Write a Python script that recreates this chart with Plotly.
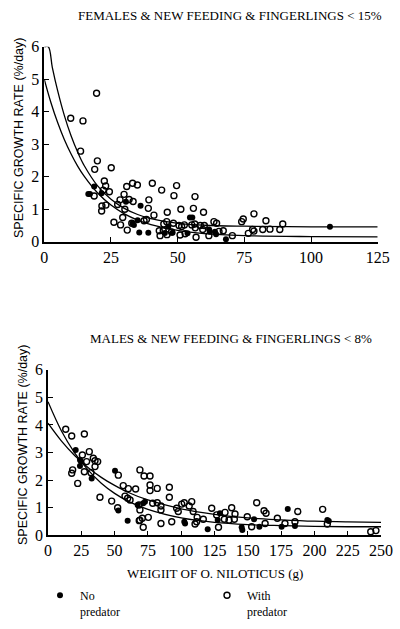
import plotly.graph_objects as go

# ---------------- data ----------------
# Top panel: FEMALES
top_no_x = [16.5, 17.1, 18.7, 21.5, 30.6, 36.1, 33.1, 33.6, 35.0, 39.0, 35.6, 46.5, 45.2,
            48.1, 53.7, 54.6, 55.5, 61.8, 62.1, 64.0, 64.4, 68.1, 107.1]
top_no_y = [1.47, 1.47, 1.70, 1.49, 1.23, 1.11, 0.57, 0.52, 0.66, 0.28, 0.29, 0.46, 0.27,
            0.28, 0.26, 0.75, 0.75, 0.38, 0.31, 0.31, 0.23, 0.08, 0.46]

top_with_x = [9.9, 14.5, 19.6, 13.6, 19.9, 18.9, 25.1, 22.5, 23.0, 22.1, 24.4, 18.7, 21.6, 23.1, 21.5,
              30.9, 33.1, 34.9, 40.5, 44.0, 49.6, 48.6, 56.5,
              29.9, 31.8, 33.3, 39.2, 28.4, 27.5, 30.2, 39.0, 41.1, 46.1, 51.2, 55.9, 59.7,
              29.4, 26.1, 28.6, 31.1, 32.8, 37.4, 38.3, 43.1, 44.6, 45.9, 44.8, 43.4, 47.7, 46.0,
              50.9, 52.8, 48.4, 50.5, 51.5, 52.5, 55.3, 56.4, 56.6, 58.5, 56.9, 60.0,
              63.6, 64.6, 59.4, 61.7, 65.5, 67.1, 70.5, 74.0, 74.6, 78.6, 78.1, 78.6, 76.5,
              81.9, 83.1, 84.6, 88.3, 89.4]
top_with_y = [3.80, 3.72, 4.57, 2.79, 2.49, 2.23, 2.28, 1.87, 1.72, 1.59, 1.54, 1.41, 1.10, 1.13, 0.95,
              1.70, 1.80, 1.75, 1.80, 1.59, 1.73, 1.42, 1.39,
              1.46, 1.30, 1.24, 1.29, 1.29, 1.15, 1.00, 1.03, 0.82, 0.91, 1.00, 1.03, 0.91,
              0.75, 0.60, 0.52, 0.36, 0.57, 0.65, 0.69, 0.34, 0.34, 0.62, 0.55, 0.19, 0.30, 0.22,
              0.21, 0.25, 0.57, 0.50, 0.47, 0.52, 0.52, 0.55, 0.43, 0.50, 0.14, 0.50,
              0.62, 0.57, 0.38, 0.19, 0.32, 0.34, 0.19, 0.62, 0.70, 0.86, 0.38, 0.33, 0.26,
              0.38, 0.65, 0.39, 0.38, 0.55]

top_curve_x = [0, 1.5, 3, 5, 7.5, 10, 12.5, 15, 20, 25, 30, 35, 40, 50, 60, 75, 100, 125]
top_upper_y = [6.0, 6.0, 5.37, 4.65, 3.89, 3.27, 2.76, 2.34, 1.72, 1.31, 1.03, 0.84, 0.71,
               0.57, 0.51, 0.48, 0.46, 0.46]
top_lower_x = [0, 2.5, 5, 7.5, 10, 12.5, 15, 20, 25, 30, 35, 40, 50, 60, 75, 100, 125]
top_lower_y = [5.0, 4.28, 3.67, 3.15, 2.71, 2.33, 2.01, 1.50, 1.13, 0.86, 0.67, 0.53, 0.35,
               0.25, 0.19, 0.16, 0.15]

# Bottom panel: MALES
bot_no_x = [20.8, 24.0, 24.8, 24.0, 32.8, 50.3, 52.8, 67.3, 59.8, 71.5, 72.8, 102.3, 102.9,
            119.9, 129.1, 127.4, 145.4, 145.9, 154.7, 158.7, 180.0, 175.4, 185.4, 209.7, 210.8]
bot_no_y = [3.09, 2.73, 2.67, 2.51, 2.06, 2.34, 0.90, 1.10, 0.53, 1.16, 1.22, 0.49, 0.43,
            0.22, 0.80, 0.55, 0.29, 0.19, 0.58, 0.31, 0.95, 0.31, 0.34, 0.55, 0.52]

bot_with_x = [13.3, 17.8, 27.3, 31.0, 25.8, 29.0, 34.0, 35.3, 37.3, 35.3, 18.5, 17.8, 27.3, 32.3,
              22.3, 52.8, 69.0, 39.0, 47.8, 52.3, 56.5, 60.3, 65.8, 57.8, 59.8, 61.6, 69.0, 68.5,
              72.1, 76.6, 76.6, 76.6, 82.0, 91.1, 91.1, 68.3, 78.6, 82.0, 84.8, 84.8, 69.0, 70.8,
              71.5, 75.3, 84.8, 92.9, 96.6, 97.8, 100.4, 102.3, 106.0, 107.9, 109.0, 110.4,
              111.6, 112.0, 116.6, 122.9, 126.6, 128.0, 132.9, 132.4, 135.9, 137.9, 140.4, 139.9,
              156.7, 162.2, 163.7, 187.5, 206.2, 149.6, 152.9, 163.0, 172.2, 177.9, 185.4, 209.7,
              242.3, 246.2]
bot_with_y = [3.84, 3.60, 3.67, 3.03, 2.91, 2.67, 2.79, 2.70, 2.67, 2.49, 2.37, 2.25, 2.30, 2.27,
              1.88, 2.18, 2.37, 1.38, 1.24, 1.00, 1.80, 1.69, 1.68, 1.42, 1.34, 1.28, 0.92, 0.53,
              2.15, 2.15, 1.82, 1.62, 1.70, 1.74, 1.38, 1.10, 1.16, 1.18, 1.06, 0.92, 0.55, 0.62,
              0.29, 0.65, 0.43, 0.49, 0.98, 0.86, 1.13, 1.18, 1.06, 1.22, 0.86, 0.41,
              0.49, 0.65, 0.58, 0.98, 0.74, 0.29, 0.83, 0.58, 0.55, 1.00, 0.77, 0.58,
              1.18, 0.89, 0.80, 0.86, 0.94, 0.67, 0.31, 0.43, 0.62, 0.43, 0.49, 0.41,
              0.13, 0.17]

bot_curve_x = [0, 10, 20, 30, 40, 50, 60, 75, 100, 125, 150, 175, 200, 225, 250]
bot_a_y = [4.84, 3.79, 2.99, 2.37, 1.89, 1.52, 1.24, 0.94, 0.63, 0.47, 0.39, 0.35, 0.32, 0.31, 0.31]
bot_b_y = [4.06, 3.42, 2.89, 2.46, 2.10, 1.81, 1.56, 1.28, 0.96, 0.76, 0.63, 0.56, 0.51, 0.49, 0.47]

top_xticks = [0, 25, 50, 75, 100, 125]
bot_xticks = [0, 25, 50, 75, 100, 125, 150, 175, 200, 225, 250]
yticks = [0, 1, 2, 3, 4, 5, 6]

title_top = "FEMALES &amp; NEW FEEDING &amp; FINGERLINGS &lt; 15%"
title_bot = "MALES &amp; NEW FEEDING &amp; FINGERLINGS &lt; 8%"
ytitle = "SPECIFIC GROWTH RATE (%/day)"
xtitle = "WEIGIIT OF O. NILOTICUS (g)"
label_no = "No<br>predator"
label_with = "With<br>predator"

# ---------------- layout geometry (pixels) ----------------
W, H = 400, 629
SERIF = "Liberation Serif"
SANS = "Liberation Sans"


def px_x(p):
    return p / W


def px_y(p):
    return 1 - p / H


fig = go.Figure()

filled = dict(symbol="circle", size=6, color="black")
opened = dict(symbol="circle-open", size=6, color="black", line=dict(width=1.4, color="black"))
curve = dict(color="black", width=1.3, shape="spline")

# top panel
fig.add_trace(go.Scatter(x=top_curve_x, y=top_upper_y, mode="lines", line=curve,
                         xaxis="x", yaxis="y", showlegend=False, cliponaxis=False))
fig.add_trace(go.Scatter(x=top_lower_x, y=top_lower_y, mode="lines", line=curve,
                         xaxis="x", yaxis="y", showlegend=False, cliponaxis=False))
fig.add_trace(go.Scatter(x=top_with_x, y=top_with_y, mode="markers", marker=opened,
                         xaxis="x", yaxis="y", name=label_with, legend="legend2",
                         cliponaxis=False))
fig.add_trace(go.Scatter(x=top_no_x, y=top_no_y, mode="markers", marker=filled,
                         xaxis="x", yaxis="y", name=label_no, legend="legend",
                         cliponaxis=False))
# bottom panel
fig.add_trace(go.Scatter(x=bot_curve_x, y=bot_a_y, mode="lines", line=curve,
                         xaxis="x2", yaxis="y2", showlegend=False, cliponaxis=False))
fig.add_trace(go.Scatter(x=bot_curve_x, y=bot_b_y, mode="lines", line=curve,
                         xaxis="x2", yaxis="y2", showlegend=False, cliponaxis=False))
fig.add_trace(go.Scatter(x=bot_with_x, y=bot_with_y, mode="markers", marker=opened,
                         xaxis="x2", yaxis="y2", showlegend=False, cliponaxis=False))
fig.add_trace(go.Scatter(x=bot_no_x, y=bot_no_y, mode="markers", marker=filled,
                         xaxis="x2", yaxis="y2", showlegend=False, cliponaxis=False))

axis_common = dict(showline=True, linecolor="black", linewidth=1.5, ticks="inside",
                   ticklen=5, tickwidth=1.3, tickcolor="black", showgrid=False,
                   zeroline=False, automargin=False,
                   tickfont=dict(family=SERIF, size=16, color="black"))

legend_font = dict(family=SERIF, size=12, color="black")
fig.update_layout(
    width=W, height=H,
    margin=dict(l=0, r=0, t=0, b=0),
    paper_bgcolor="white", plot_bgcolor="white",
    xaxis=dict(axis_common, domain=[px_x(44.3), px_x(377.7)], range=[0, 125],
               tickvals=top_xticks, anchor="y"),
    yaxis=dict(axis_common, domain=[px_y(241.8), px_y(46.8)], range=[0, 6],
               tickvals=yticks, anchor="x"),
    xaxis2=dict(axis_common, domain=[px_x(48), px_x(381)], range=[0, 250],
                tickvals=bot_xticks, anchor="y2"),
    yaxis2=dict(axis_common, domain=[px_y(535.3), px_y(369.7)], range=[0, 6],
                tickvals=yticks, anchor="x2"),
    legend=dict(x=px_x(40), y=px_y(581), xanchor="left", yanchor="top",
                bgcolor="rgba(0,0,0,0)", valign="top", itemwidth=30, font=legend_font),
    legend2=dict(x=px_x(207), y=px_y(581), xanchor="left", yanchor="top",
                 bgcolor="rgba(0,0,0,0)", valign="top", itemwidth=30, font=legend_font),
    showlegend=True,
)

ann_font = dict(family=SERIF, size=13, color="black")
ytitle_font = dict(family=SANS, size=12.5, color="black")
fig.add_annotation(text=title_top, x=px_x(230), y=px_y(15), xref="paper", yref="paper",
                   showarrow=False, font=ann_font, xanchor="center", yanchor="middle")
fig.add_annotation(text=title_bot, x=px_x(231), y=px_y(338), xref="paper", yref="paper",
                   showarrow=False, font=ann_font, xanchor="center", yanchor="middle")
fig.add_annotation(text=xtitle, x=px_x(215), y=px_y(573), xref="paper", yref="paper",
                   showarrow=False, font=ann_font, xanchor="center", yanchor="middle")
fig.add_annotation(text=ytitle, x=px_x(19), y=px_y(138), xref="paper", yref="paper",
                   showarrow=False, textangle=-90, font=ytitle_font,
                   xanchor="center", yanchor="middle")
fig.add_annotation(text=ytitle, x=px_x(23), y=px_y(445), xref="paper", yref="paper",
                   showarrow=False, textangle=-90, font=ytitle_font,
                   xanchor="center", yanchor="middle")

fig.write_html("out.html", config={"displayModeBar": False},
               post_script="document.body.style.margin='0px';document.body.style.overflow='hidden';")
